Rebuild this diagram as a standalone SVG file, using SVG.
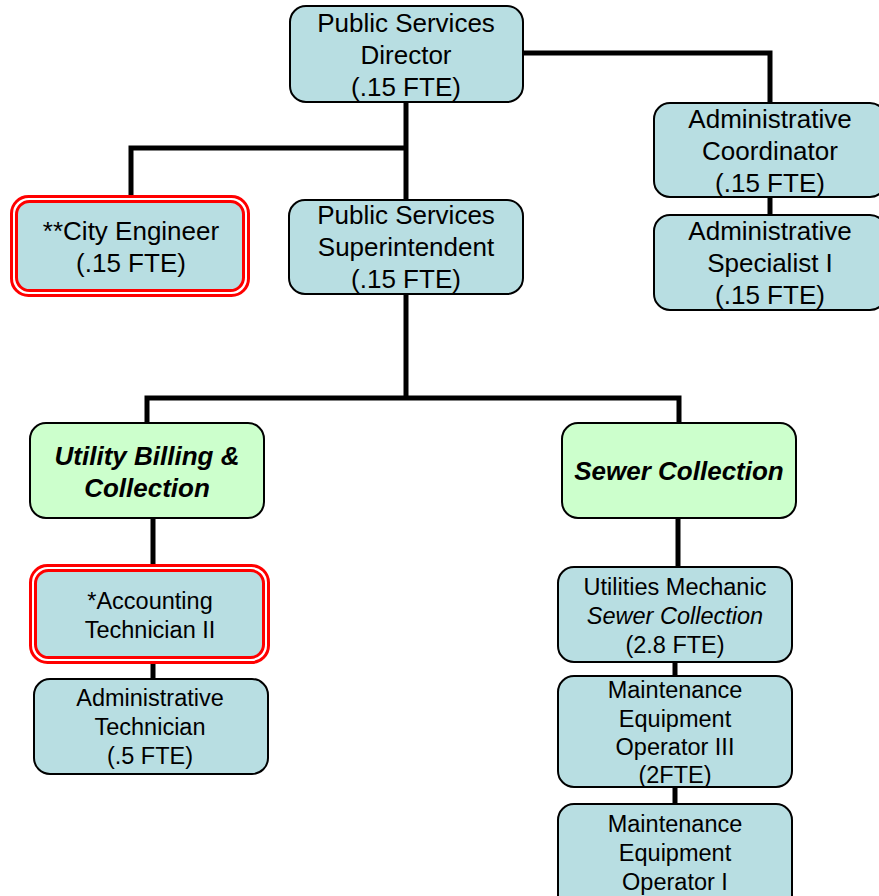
<svg xmlns="http://www.w3.org/2000/svg" width="879" height="896" viewBox="0 0 879 896">
  <style>
    .box { fill: #b8dee2; stroke: #000; stroke-width: 2; }
    .grp { fill: #ccffcc; stroke: #000; stroke-width: 2; }
    .red { fill: none; stroke: #ff0000; stroke-width: 3; }
    .redin { fill: #b8dee2; stroke: #ff0000; stroke-width: 3; }
    .t { font-family: "Liberation Sans", Arial, sans-serif; font-size: 26px; fill: #000; text-anchor: middle; }
    .s { font-family: "Liberation Sans", Arial, sans-serif; font-size: 23.5px; fill: #000; text-anchor: middle; }
    .g { font-family: "Liberation Sans", Arial, sans-serif; font-size: 26px; font-weight: bold; font-style: italic; fill: #000; text-anchor: middle; }
    .conn { fill: none; stroke: #000; stroke-width: 5; stroke-linejoin: miter; }
  </style>

  <!-- reporting lines -->
  <g id="connectors">
    <polyline class="conn" points="523,53 770,53 770,103"/>
    <line class="conn" x1="770" y1="197" x2="770" y2="215"/>
    <line class="conn" x1="406" y1="102" x2="406" y2="200"/>
    <polyline class="conn" points="406,148 131,148 131,196"/>
    <line class="conn" x1="406" y1="294" x2="406" y2="398"/>
    <polyline class="conn" points="147,423 147,398 679,398 679,423"/>
    <line class="conn" x1="153" y1="518" x2="153" y2="565"/>
    <line class="conn" x1="153" y1="663" x2="153" y2="679"/>
    <line class="conn" x1="678" y1="518" x2="678" y2="567"/>
    <line class="conn" x1="675" y1="662" x2="675" y2="676"/>
    <line class="conn" x1="675" y1="787" x2="675" y2="804"/>
  </g>

  <g id="director">
    <rect class="box" x="290" y="6" width="233" height="96" rx="16"/>
    <text class="t" x="406" y="32">Public Services</text>
    <text class="t" x="406" y="64">Director</text>
    <text class="t" x="406" y="96">(.15 FTE)</text>
  </g>

  <g id="admin-coordinator">
    <rect class="box" x="654" y="103" width="232" height="94" rx="16"/>
    <text class="t" x="770" y="128">Administrative</text>
    <text class="t" x="770" y="160">Coordinator</text>
    <text class="t" x="770" y="192">(.15 FTE)</text>
  </g>

  <g id="admin-specialist">
    <rect class="box" x="654" y="215" width="232" height="95" rx="16"/>
    <text class="t" x="770" y="240">Administrative</text>
    <text class="t" x="770" y="272">Specialist I</text>
    <text class="t" x="770" y="304">(.15 FTE)</text>
  </g>

  <g id="city-engineer">
    <rect class="red" x="11.5" y="196.5" width="237" height="99" rx="17"/>
    <rect class="redin" x="16.5" y="201.5" width="227" height="89" rx="13"/>
    <text class="t" x="131" y="240">**City Engineer</text>
    <text class="t" x="131" y="272">(.15 FTE)</text>
  </g>

  <g id="superintendent">
    <rect class="box" x="289" y="200" width="234" height="94" rx="16"/>
    <text class="t" x="406" y="224">Public Services</text>
    <text class="t" x="406" y="256">Superintendent</text>
    <text class="t" x="406" y="288">(.15 FTE)</text>
  </g>

  <g id="utility-billing">
    <rect class="grp" x="30" y="423" width="234" height="95" rx="16"/>
    <text class="g" x="147" y="465">Utility Billing &amp;</text>
    <text class="g" x="147" y="497">Collection</text>
  </g>

  <g id="sewer-collection">
    <rect class="grp" x="562" y="423" width="234" height="95" rx="16"/>
    <text class="g" x="679" y="480">Sewer Collection</text>
  </g>

  <g id="accounting-technician">
    <rect class="red" x="30.5" y="565.5" width="238" height="97" rx="17"/>
    <rect class="redin" x="35.5" y="570.5" width="228" height="87" rx="13"/>
    <text class="s" x="150" y="609">*Accounting</text>
    <text class="s" x="150" y="638">Technician II</text>
  </g>

  <g id="admin-technician">
    <rect class="box" x="34" y="679" width="234" height="95" rx="16"/>
    <text class="s" x="150" y="706">Administrative</text>
    <text class="s" x="150" y="735">Technician</text>
    <text class="s" x="150" y="764">(.5 FTE)</text>
  </g>

  <g id="utilities-mechanic">
    <rect class="box" x="558" y="567" width="234" height="95" rx="16"/>
    <text class="s" x="675" y="595">Utilities Mechanic</text>
    <text class="s" x="675" y="624" font-style="italic">Sewer Collection</text>
    <text class="s" x="675" y="653">(2.8 FTE)</text>
  </g>

  <g id="meo-3">
    <rect class="box" x="558" y="676" width="234" height="111" rx="16"/>
    <text class="s" x="675" y="698">Maintenance</text>
    <text class="s" x="675" y="727">Equipment</text>
    <text class="s" x="675" y="755">Operator III</text>
    <text class="s" x="675" y="783">(2FTE)</text>
  </g>

  <g id="meo-1">
    <rect class="box" x="558" y="804" width="234" height="110" rx="16"/>
    <text class="s" x="675" y="832">Maintenance</text>
    <text class="s" x="675" y="861">Equipment</text>
    <text class="s" x="675" y="890">Operator I</text>
  </g>
</svg>
